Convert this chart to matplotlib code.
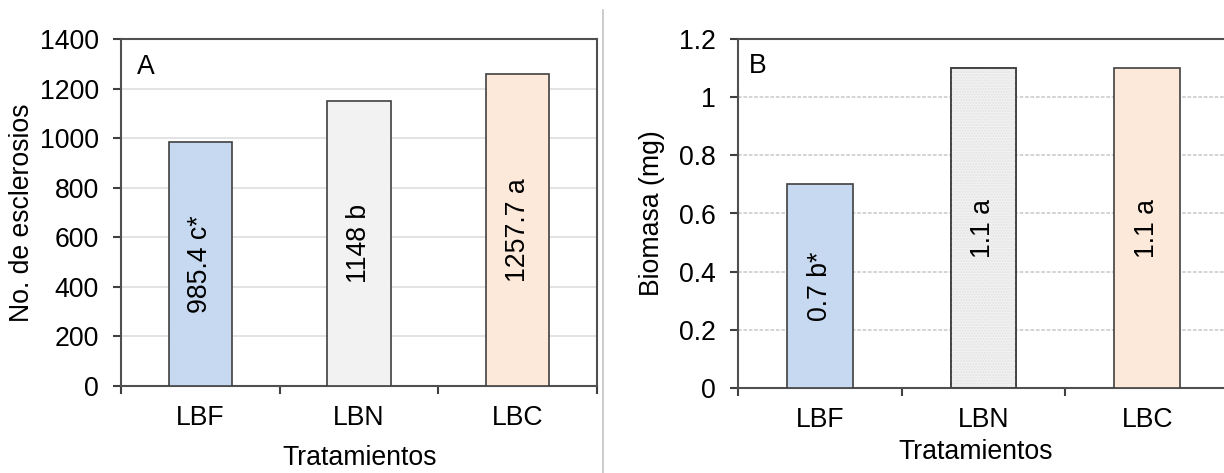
import matplotlib
matplotlib.use("Agg")
import matplotlib.pyplot as plt
from matplotlib.lines import Line2D
import numpy as np

categories = ["LBF", "LBN", "LBC"]
esclerosios = [985.4, 1148, 1257.7]
esclerosios_labels = ["985.4 c*", "1148 b", "1257.7 a"]
biomasa = [0.7, 1.1, 1.1]
biomasa_labels = ["0.7 b*", "1.1 a", "1.1 a"]
bar_colors = ["#c6d9f0", "#f2f2f2", "#fde9d9"]

plt.rcParams['font.family'] = ['Liberation Sans', 'DejaVu Sans']
FS = 19.2
W, H = 1224, 473
fig = plt.figure(figsize=(W / 100, H / 100), dpi=100)

def px_axes(l, r, t, b):
    return fig.add_axes([l / W, (H - b) / H, (r - l) / W, (b - t) / H])

axA = px_axes(121, 597, 39, 386)
axB = px_axes(738, 1229, 39, 388)

def style(ax, values, labels, ymax, ystep, letter, letter_pos, ylabel,
          ylab_x, xlab_pos, grid_ls, grid_col, hatch_mid):
    x = np.arange(len(categories))
    ax.set_xlim(-0.5, len(categories) - 0.5)
    ax.set_ylim(0, ymax)
    ax.bar(x, values, width=0.4, color=bar_colors, edgecolor="#404040",
           linewidth=1.2, zorder=3)
    if hatch_mid:
        ax.bar(x[1], values[1], width=0.4, color="none", edgecolor="#e2e2e2",
               hatch="......", linewidth=0, zorder=3.5)
        ax.bar(x[1], values[1], width=0.4, color="none", edgecolor="#404040",
               linewidth=1.2, zorder=4)
    for xi, v, lab in zip(x, values, labels):
        ax.text(xi, v / 2, lab, rotation=90, ha="center", va="center",
                fontsize=FS, color="black", zorder=5)
    yt = np.arange(0, ymax + ystep / 2, ystep)
    ax.set_yticks(yt)
    ax.set_yticklabels([f"{v:g}" for v in np.round(yt, 6)])
    ax.yaxis.grid(True, color=grid_col, linewidth=1.3, linestyle=grid_ls, zorder=0)
    ax.set_axisbelow(True)
    ax.set_xticks(x)
    ax.set_xticklabels(categories)
    ax.set_xticks(np.arange(-0.5, len(categories)), minor=True)
    ax.tick_params(axis="x", which="major", length=0, pad=14, labelsize=FS)
    ax.tick_params(axis="x", which="minor", length=6, width=1.5, color="#404040",
                   direction="out")
    ax.tick_params(axis="y", length=6, width=1.5, color="#404040", pad=10,
                   labelsize=FS)
    for s in ax.spines.values():
        s.set_color("#505050")
        s.set_linewidth(1.5)
    ax.set_ylabel(ylabel, fontsize=FS)
    ax.yaxis.label.set_va("center")
    ax.yaxis.set_label_coords(ylab_x, 0.5)
    ax.set_xlabel("Tratamientos", fontsize=FS)
    ax.xaxis.label.set_va("center")
    ax.xaxis.set_label_coords(*xlab_pos)
    ax.text(letter_pos[0], letter_pos[1], letter, transform=ax.transAxes,
            ha="center", va="center", fontsize=FS)

style(axA, esclerosios, esclerosios_labels, 1400, 200, "A", (0.053, 0.918),
      "No. de esclerosios", -0.208, (0.502, -0.207), "-", "#e0e0e0", False)
style(axB, biomasa, biomasa_labels, 1.2, 0.2, "B", (0.041, 0.923),
      "Biomasa (mg)", -0.175, (0.483, -0.183), (0, (2, 1)), "#d0d0d0", True)

fig.add_artist(Line2D([603 / W, 603 / W], [0, (H - 10) / H], color="#c8c8c8",
                      linewidth=1.3, transform=fig.transFigure))

fig.savefig("out.png", dpi=100)
